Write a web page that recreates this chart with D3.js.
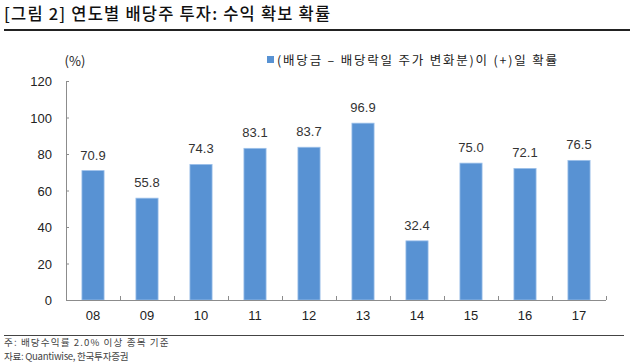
<!DOCTYPE html>
<html>
<head>
<meta charset="utf-8">
<script src="https://d3js.org/d3.v7.min.js"></script>
<style>
    body { margin: 0; background: #fff; }
    text { font-family: "Noto Sans CJK KR", "Noto Sans", sans-serif; }
    .axis path, .axis line { stroke: #8c8c8c; }
    .axis text { font-size: 13px; fill: #222; font-family: "Liberation Sans", "Noto Sans CJK KR", sans-serif; }
    .valueLabel { font-size: 13px; fill: #333; font-family: "Liberation Sans", sans-serif; }
</style>
</head>
<body>
<div id="chart"></div>
<script>

// data
var years = ["08", "09", "10", "11", "12", "13", "14", "15", "16", "17"];
var probability = [70.9, 55.8, 74.3, 83.1, 83.7, 96.9, 32.4, 75.0, 72.1, 76.5];
var yTicks = [0, 20, 40, 60, 80, 100, 120];

var titleText = "[그림 2] 연도별 배당주 투자: 수익 확보 확률";
var legendText = "(배당금 – 배당락일 주가 변화분)이 (+)일 확률";
var notes = ["주: 배당수익률 2.0% 이상 종목 기준", "자료: Quantiwise, 한국투자증권"];

var width = 630, height = 364;

var svg = d3.select("#chart").append("svg")
    .attr("width", width)
    .attr("height", height);

// title + rule under it
svg.append("text")
    .attr("x", 4)
    .attr("y", 20)
    .attr("font-size", 16.5)
    .attr("font-weight", 500)
    .attr("letter-spacing", 1.2)
    .attr("fill", "#111")
    .text(titleText);

svg.append("line")
    .attr("x1", 4).attr("x2", 630)
    .attr("y1", 30).attr("y2", 30)
    .attr("stroke", "#222")
    .attr("stroke-width", 2);

var x = d3.scaleBand().domain(years).range([66, 606]).paddingInner(0.59).paddingOuter(0.295);
var y = d3.scaleLinear().domain([0, 120]).range([300, 81]);

// y axis, ticks pointing inside
svg.append("g")
    .attr("class", "axis")
    .attr("transform", "translate(66,0)")
    .call(d3.axisLeft(y).tickValues(yTicks).tickSizeInner(-3).tickSizeOuter(0).tickPadding(14))
    .call(function(g) { g.selectAll("text").attr("dy", "0.35em"); });

// bars
svg.append("g")
    .selectAll("rect")
    .data(probability)
    .enter()
    .append("rect")
    .attr("x", function(d, i) { return x(years[i]); })
    .attr("y", function(d) { return y(d); })
    .attr("width", x.bandwidth())
    .attr("height", function(d) { return y(0) - y(d); })
    .attr("fill", "#5892d3")
    .attr("stroke", "#9cc0ea")
    .attr("stroke-width", 0.8);

svg.append("g")
    .selectAll("text")
    .data(probability)
    .enter()
    .append("text")
    .attr("class", "valueLabel")
    .attr("x", function(d, i) { return x(years[i]) + x.bandwidth() / 2; })
    .attr("y", function(d) { return y(d) - 11; })
    .attr("text-anchor", "middle")
    .text(function(d) { return d.toFixed(1); });

// x axis: ticks between categories, pointing up
var xb = d3.scaleLinear().domain([0, years.length]).range([66, 606]);
var xAxisG = svg.append("g")
    .attr("class", "axis")
    .attr("transform", "translate(0,300)");
xAxisG.append("line")
    .attr("x1", 66).attr("x2", 606)
    .attr("y1", 0.5).attr("y2", 0.5);
xAxisG.selectAll(".sep")
    .data(d3.range(1, years.length + 1))
    .enter()
    .append("line")
    .attr("class", "sep")
    .attr("x1", function(d) { return xb(d) + 0.5; })
    .attr("x2", function(d) { return xb(d) + 0.5; })
    .attr("y1", 0).attr("y2", -4);
xAxisG.selectAll(".lbl")
    .data(years)
    .enter()
    .append("text")
    .attr("class", "lbl")
    .attr("x", function(d) { return x(d) + x.bandwidth() / 2; })
    .attr("y", 20)
    .attr("text-anchor", "middle")
    .text(function(d) { return d; });

// unit label
svg.append("text")
    .attr("x", 75)
    .attr("y", 66)
    .attr("text-anchor", "middle")
    .attr("font-size", 13)
    .attr("fill", "#222")
    .text("(%)");

// legend
svg.append("rect")
    .attr("x", 267).attr("y", 56)
    .attr("width", 7).attr("height", 7)
    .attr("fill", "#5892d3");
svg.append("text")
    .attr("x", 277)
    .attr("y", 65)
    .attr("font-size", 12.5)
    .attr("letter-spacing", 1.8)
    .attr("fill", "#222")
    .text(legendText);

// bottom rule + notes
svg.append("line")
    .attr("x1", 4).attr("x2", 624)
    .attr("y1", 335.5).attr("y2", 335.5)
    .attr("stroke", "#444")
    .attr("stroke-width", 1);

var noteSpacing = [1.1, -0.3];
svg.selectAll(".note")
    .data(notes)
    .enter()
    .append("text")
    .attr("class", "note")
    .attr("x", 4)
    .attr("y", function(d, i) { return 346 + i * 14; })
    .attr("font-size", 9.6)
    .attr("letter-spacing", function(d, i) { return noteSpacing[i]; })
    .attr("fill", "#444")
    .text(function(d) { return d; });

</script>
</body>
</html>
